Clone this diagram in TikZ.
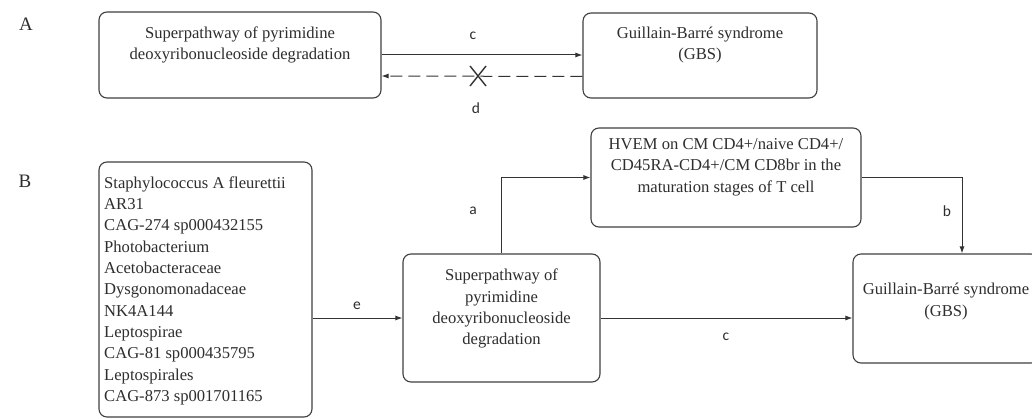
\documentclass[tikz,border=0pt]{standalone}
\usepackage{fontspec}
\setmainfont{Liberation Serif}
\newfontfamily\labfont{Carlito}
\usetikzlibrary{arrows.meta}
\definecolor{boxc}{HTML}{404040}
\definecolor{linec}{HTML}{333333}
\definecolor{txtc}{HTML}{2E2E2E}
\begin{document}
\begin{tikzpicture}[x=1pt,y=-1pt,
  box/.style={draw=boxc, line width=1.1pt, rounded corners=8pt, inner sep=0pt},
  txt/.style={font=\fontsize{16.6}{21.3}\selectfont, text=txtc, align=center, inner sep=0pt, anchor=north},
  lbl/.style={font=\labfont\fontsize{15.5}{18}\selectfont, text=txtc, inner sep=0pt},
  arr/.style={draw=linec, line width=1pt, -{Latex[length=7pt,width=5pt]}},
  panel/.style={font=\fontsize{19}{22}\selectfont, text=txtc, inner sep=0pt}]
\clip (0,0) rectangle (1032,419);
\fill[white] (0,0) rectangle (1032,419);

% Panel A
\node[panel] (pA) at (26,24) {A};
\node[box, minimum width=282pt, minimum height=86pt] (a1) at (240,55) {};
\node[txt] (a1t) at (240,26.5) {Superpathway of pyrimidine\\deoxyribonucleoside degradation};
\node[box, minimum width=234pt, minimum height=85pt] (a2) at (700,55.5) {};
\node[txt] (a2t) at (700,26.5) {Guillain-Barré syndrome\\(GBS)};
\draw[arr] (a1.east |- 0,55) -- (a2.west |- 0,55);
\draw[arr, dashed, dash pattern=on 12pt off 6pt] ([yshift=-21pt]a2.west) -- ([yshift=-21pt]a1.east);
\coordinate (xm) at (478,76);
\draw[draw=linec, line width=1.4pt] ([shift={(-8,-10)}]xm) -- ([shift={(8,10)}]xm)
  ([shift={(8,-10)}]xm) -- ([shift={(-8,10)}]xm);
\node[lbl] (lc1) at (473,36) {c};
\node[lbl] (ld1) at (476,108) {d};

% Panel B
\node[panel] (pB) at (25,181) {B};
\node[box, minimum width=213pt, minimum height=255pt] (b1) at (205.5,289.5) {};
\node[txt, align=left, anchor=north west] (b1t) at (104,176.5) {Staphylococcus A fleurettii\\AR31\\CAG-274 sp000432155\\Photobacterium\\Acetobacteraceae\\Dysgonomonadaceae\\NK4A144\\Leptospirae\\CAG-81 sp000435795\\Leptospirales\\CAG-873 sp001701165};
\node[box, minimum width=197pt, minimum height=128pt] (b2) at (501.5,318) {};
\node[txt] (b2t) at (501.5,269) {Superpathway of\\pyrimidine\\deoxyribonucleoside\\degradation};
\node[box, minimum width=270pt, minimum height=99pt] (h) at (726,177.5) {};
\node[txt] (ht) at (726,138.5) {HVEM on CM CD4+/naive CD4+/\\CD45RA-CD4+/CM CD8br in the\\maturation stages of T cell};
\node[box, minimum width=186pt, minimum height=109pt] (g) at (946,308.5) {};
\node[txt] (gt) at (946,283) {Guillain-Barré syndrome\\(GBS)};

\draw[arr] (b1.east |- b2.west) -- (b2.west);
\draw[arr] (b2.east) -- (g.west |- b2.east);
\draw[arr] (b2.north) |- (h.west);
\coordinate (gin) at ([xshift=16pt]g.north);
\draw[arr] (h.east) -| (gin);

\node[lbl] (le) at (357,306) {e};
\node[lbl] (lc2) at (726,337) {c};
\node[lbl] (la) at (473,211) {a};
\node[lbl] (lb) at (947,211) {b};
\end{tikzpicture}
\end{document}
